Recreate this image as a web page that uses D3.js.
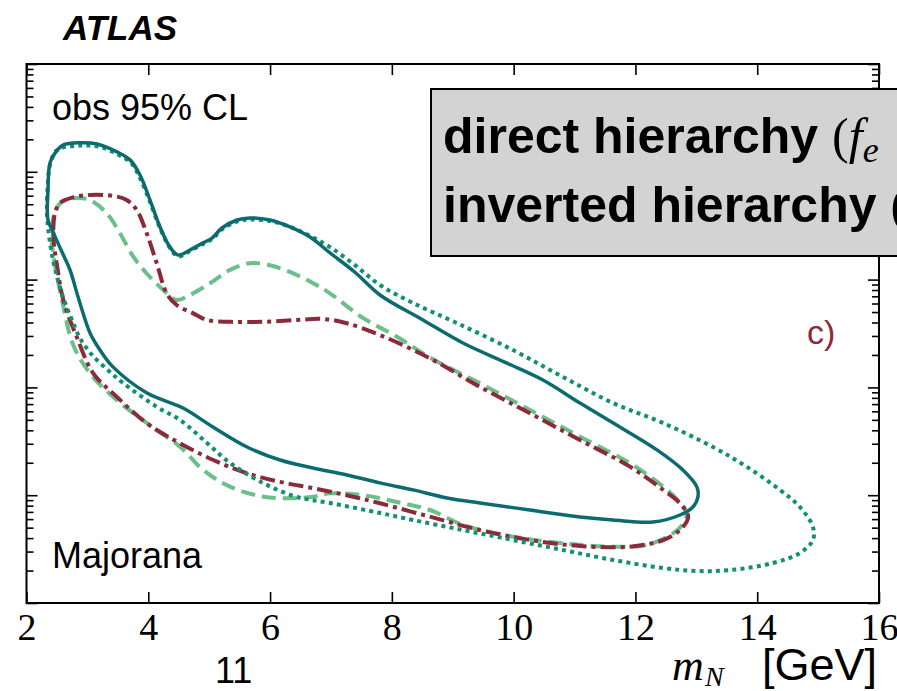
<!DOCTYPE html>
<html>
<head>
<meta charset="utf-8">
<script src="https://cdn.jsdelivr.net/npm/d3@7"></script>
<style>
  html, body { margin: 0; padding: 0; background: #fff; }
  svg { display: block; }
</style>
</head>
<body>
<script>
// ---------- data (mass in GeV, |U|^2) ----------
const xTickValues = [2, 4, 6, 8, 10, 12, 14, 16];
const yMajorTicks = [1e-7, 1e-6, 1e-5, 1e-4, 1e-3, 1e-2];

// solid contour (direct hierarchy, observed)
const solidMass = [2.353, 2.353, 2.386, 2.468, 2.599, 2.878, 3.158, 3.486, 3.700, 3.864, 4.028, 4.192, 4.356, 4.488, 4.685, 4.898, 5.046, 5.210, 5.456, 5.670, 5.998, 6.327, 6.655, 6.984, 7.394, 7.805, 8.511, 9.167, 9.890, 10.481, 11.089, 11.745, 12.353, 12.780, 13.010, 13.026, 12.944, 12.731, 12.287, 11.631, 11.089, 10.268, 9.447, 8.905, 8.346, 7.805, 7.263, 6.704, 6.163, 5.621, 5.062, 4.570, 3.979, 3.420, 3.207, 3.043, 2.862, 2.714, 2.583, 2.435];
const solidU2 = [3.57e-4, 6.78e-4, 1.21e-3, 1.49e-3, 1.77e-3, 1.86e-3, 1.81e-3, 1.53e-3, 1.29e-3, 9.33e-4, 5.47e-4, 3.08e-4, 2.0e-4, 1.69e-4, 1.88e-4, 2.19e-4, 2.43e-4, 3.01e-4, 3.57e-4, 3.73e-4, 3.57e-4, 3.08e-4, 2.48e-4, 1.77e-4, 1.17e-4, 7.2e-5, 4.22e-5, 2.58e-5, 1.68e-5, 1.17e-5, 7.16e-6, 4.29e-6, 2.63e-6, 1.71e-6, 1.19e-6, 9.62e-7, 7.77e-7, 6.55e-7, 5.64e-7, 5.89e-7, 6.28e-7, 7.29e-7, 8.47e-7, 9.42e-7, 1.12e-6, 1.30e-6, 1.54e-6, 1.79e-6, 2.12e-6, 2.80e-6, 4.29e-6, 6.44e-6, 8.87e-6, 1.55e-5, 2.22e-5, 3.2e-5, 6.47e-5, 1.23e-4, 1.80e-4, 2.77e-4];

// dotted contour
const dottedMass = [2.337, 2.337, 2.353, 2.386, 2.501, 2.878, 3.207, 3.486, 3.716, 3.864, 4.028, 4.192, 4.356, 4.488, 4.685, 4.898, 5.046, 5.210, 5.456, 5.670, 5.998, 6.327, 6.655, 6.984, 7.394, 7.805, 8.346, 9.069, 9.989, 10.810, 11.631, 12.452, 13.273, 13.831, 14.373, 14.701, 14.915, 14.915, 14.701, 14.258, 13.552, 13.010, 12.452, 11.631, 10.810, 9.989, 9.168, 8.346, 7.805, 6.984, 6.442, 5.883, 5.342, 4.964, 4.521, 4.143, 3.585, 3.371, 3.076, 2.878, 2.747, 2.616, 2.517, 2.435, 2.369];
const dottedU2 = [3.97e-4, 5.47e-4, 8.04e-4, 1.16e-3, 1.59e-3, 1.75e-3, 1.70e-3, 1.46e-3, 1.21e-3, 8.75e-4, 5.25e-4, 3.01e-4, 1.96e-4, 1.64e-4, 1.84e-4, 2.14e-4, 2.38e-4, 2.92e-4, 3.46e-4, 3.61e-4, 3.50e-4, 3.08e-4, 2.54e-4, 2.0e-4, 1.36e-4, 8.91e-5, 6.07e-5, 3.95e-5, 2.22e-5, 1.25e-5, 7.16e-6, 4.68e-6, 2.80e-6, 1.83e-6, 1.12e-6, 7.77e-7, 5.07e-7, 3.84e-7, 2.91e-7, 2.35e-7, 2.02e-7, 1.98e-7, 2.11e-7, 2.51e-7, 3.10e-7, 3.84e-7, 4.75e-7, 5.89e-7, 6.84e-7, 8.47e-7, 9.62e-7, 1.30e-6, 1.99e-6, 3.05e-6, 4.99e-6, 6.58e-6, 1.10e-5, 1.39e-5, 2.0e-5, 2.87e-5, 4.22e-5, 6.47e-5, 9.91e-5, 1.52e-4, 2.59e-4];

// dashed contour
const dashedMass = [2.419, 2.414, 2.468, 2.578, 2.768, 3.043, 3.317, 3.535, 3.754, 3.974, 4.246, 4.466, 4.685, 5.013, 5.342, 5.670, 5.998, 6.381, 6.709, 6.984, 7.525, 8.084, 8.626, 9.447, 10.268, 11.089, 11.910, 12.456, 12.736, 12.841, 12.780, 12.621, 12.184, 11.636, 10.814, 9.993, 9.172, 8.626, 8.084, 7.525, 6.984, 6.709, 6.327, 5.888, 5.342, 4.903, 4.521, 4.138, 3.481, 3.043, 2.768, 2.583, 2.468];
const dashedU2 = [2.09e-4, 2.88e-4, 4.24e-4, 5.25e-4, 5.68e-4, 5.47e-4, 4.12e-4, 2.69e-4, 1.63e-4, 1.14e-4, 8.02e-5, 6.47e-5, 7.2e-5, 9.25e-5, 1.23e-4, 1.42e-4, 1.36e-4, 1.14e-4, 9.25e-5, 7.46e-5, 4.41e-5, 2.95e-5, 1.89e-5, 1.09e-5, 6.17e-6, 3.49e-6, 1.98e-6, 1.20e-6, 8.47e-7, 6.79e-7, 5.41e-7, 4.44e-7, 3.45e-7, 3.33e-7, 3.58e-7, 4.12e-7, 5.30e-7, 7.29e-7, 8.65e-7, 1.0e-6, 1.04e-6, 9.68e-7, 9.36e-7, 9.68e-7, 1.20e-6, 1.71e-6, 2.82e-6, 4.03e-6, 7.64e-6, 1.35e-5, 2.47e-5, 6.47e-5, 1.36e-4];

// dash-dot contour
const dashDotMass = [2.452, 2.440, 2.468, 2.550, 2.768, 3.043, 3.425, 3.645, 3.810, 3.974, 4.138, 4.302, 4.466, 4.739, 4.959, 5.342, 5.888, 6.437, 6.874, 7.258, 7.805, 8.626, 9.447, 10.268, 11.089, 11.910, 12.456, 12.731, 12.867, 12.731, 12.456, 11.910, 11.089, 10.268, 9.447, 8.626, 7.805, 7.258, 6.709, 6.163, 5.616, 5.067, 4.521, 3.974, 3.481, 3.097, 2.824, 2.604, 2.501];
const dashDotU2 = [2.09e-4, 2.88e-4, 4.15e-4, 5.14e-4, 5.80e-4, 6.09e-4, 5.97e-4, 5.47e-4, 4.43e-4, 2.69e-4, 1.42e-4, 7.46e-5, 5.81e-5, 4.86e-5, 4.22e-5, 4.06e-5, 4.06e-5, 4.22e-5, 4.31e-5, 3.94e-5, 3.06e-5, 1.86e-5, 1.01e-5, 5.75e-6, 3.25e-6, 1.84e-6, 1.12e-6, 8.41e-7, 6.32e-7, 4.75e-7, 3.84e-7, 3.33e-7, 3.38e-7, 3.84e-7, 4.75e-7, 6.32e-7, 8.41e-7, 1.0e-6, 1.16e-6, 1.33e-6, 1.60e-6, 2.12e-6, 3.03e-6, 4.65e-6, 8.2e-6, 1.35e-5, 2.95e-5, 6.47e-5, 1.36e-4];

// ---------- layout ----------
const W = 897, H = 691;
const L = 26.5, R = 879, T = 64, B = 603;

const svg = d3.select("body").append("svg").attr("width", W).attr("height", H);

const x = d3.scaleLinear().domain([2, 16]).range([L, R]);
const y = d3.scaleLog().domain([1e-7, 1e-2]).range([B, T]);

const minorTicks = [];
yMajorTicks.slice(0, -1).forEach(p => { for (let k = 2; k <= 9; k++) minorTicks.push(p * k); });

svg.append("defs").append("clipPath").attr("id", "plotclip")
  .append("rect").attr("x", L).attr("y", T).attr("width", R - L).attr("height", B - T);

// ---------- axes ----------
const axisStyle = g => {
  g.select(".domain").remove();
  g.selectAll(".tick line").attr("stroke", "#000").attr("stroke-width", 1.6);
};

svg.append("g").attr("transform", `translate(0,${B})`)
  .call(d3.axisBottom(x).tickValues(xTickValues).tickSize(-11).tickPadding(10).tickFormat(d3.format("d")))
  .call(axisStyle)
  .call(g => g.selectAll(".tick text")
    .attr("font-family", "'Liberation Serif', 'Times New Roman', serif")
    .attr("font-size", 38).attr("fill", "#000").attr("dy", "0.72em"));

svg.append("g").attr("transform", `translate(0,${T})`)
  .call(d3.axisTop(x).tickValues(xTickValues).tickSize(-11).tickFormat(""))
  .call(axisStyle);

svg.append("g").attr("transform", `translate(${L},0)`)
  .call(d3.axisLeft(y).tickValues(yMajorTicks).tickSize(-11).tickFormat(""))
  .call(axisStyle);
svg.append("g").attr("transform", `translate(${L},0)`)
  .call(d3.axisLeft(y).tickValues(minorTicks).tickSize(-7).tickFormat(""))
  .call(axisStyle);
svg.append("g").attr("transform", `translate(${R},0)`)
  .call(d3.axisRight(y).tickValues(yMajorTicks).tickSize(-11).tickFormat(""))
  .call(axisStyle);
svg.append("g").attr("transform", `translate(${R},0)`)
  .call(d3.axisRight(y).tickValues(minorTicks).tickSize(-7).tickFormat(""))
  .call(axisStyle);

// frame
svg.append("rect").attr("x", L).attr("y", T).attr("width", R - L).attr("height", B - T)
  .attr("fill", "none").attr("stroke", "#000").attr("stroke-width", 2);

// ---------- contours ----------
const line = d3.line().x(d => x(d[0])).y(d => y(d[1])).curve(d3.curveCatmullRomClosed.alpha(0.5));
const plot = svg.append("g").attr("clip-path", "url(#plotclip)");

const series = [
  { mass: dashedMass, u2: dashedU2, color: "#6bbf89", width: 4, dash: "14,7" },
  { mass: dashDotMass, u2: dashDotU2, color: "#8b2a3b", width: 4, dash: "15,5,4,5" },
  { mass: dottedMass, u2: dottedU2, color: "#13906f", width: 4, dash: "4,4.2" },
  { mass: solidMass, u2: solidU2, color: "#0b6b70", width: 3.5, dash: null }
];
series.forEach(s => {
  const pts = s.mass.map((m, i) => [m, s.u2[i]]);
  plot.append("path").attr("d", line(pts))
    .attr("fill", "none").attr("stroke", s.color).attr("stroke-width", s.width)
    .attr("stroke-dasharray", s.dash).attr("stroke-linejoin", "round");
});

// ---------- texts ----------
const sans = "'Liberation Sans', Arial, Helvetica, sans-serif";
const serif = "'Liberation Serif', 'Times New Roman', serif";

svg.append("text").attr("x", 63).attr("y", 40).attr("font-family", sans)
  .attr("font-size", 35).attr("font-weight", "bold").attr("font-style", "italic").text("ATLAS");

svg.append("text").attr("x", 52).attr("y", 120).attr("font-family", sans)
  .attr("font-size", 36).text("obs 95% CL");

svg.append("text").attr("x", 52).attr("y", 568).attr("font-family", sans)
  .attr("font-size", 36).text("Majorana");

svg.append("text").attr("x", 807).attr("y", 344).attr("font-family", sans)
  .attr("font-size", 34).attr("fill", "#8b2a3b").text("c)");

// legend box
svg.append("rect").attr("x", 431).attr("y", 89).attr("width", 520).attr("height", 167)
  .attr("fill", "#d3d3d3").attr("stroke", "#000").attr("stroke-width", 2);

const t1 = svg.append("text").attr("x", 443).attr("y", 153).attr("font-family", sans)
  .attr("font-size", 50).attr("font-weight", "bold");
t1.append("tspan").text("direct hierarchy ");
t1.append("tspan").attr("font-family", serif).attr("font-weight", "normal").text("(");
t1.append("tspan").attr("font-family", serif).attr("font-weight", "normal").attr("font-style", "italic").text("f");
t1.append("tspan").attr("font-family", serif).attr("font-weight", "normal").attr("font-style", "italic")
  .attr("font-size", 36).attr("dy", 9).text("e");

const t2 = svg.append("text").attr("x", 443).attr("y", 222).attr("font-family", sans)
  .attr("font-size", 50).attr("font-weight", "bold");
t2.append("tspan").text("inverted hierarchy ");
t2.append("tspan").attr("font-family", serif).attr("font-weight", "normal").text("(");

// bottom texts
svg.append("text").attr("x", 215).attr("y", 683).attr("font-family", sans)
  .attr("font-size", 36).text("11");

svg.append("text").attr("x", 672).attr("y", 680).attr("font-family", serif)
  .attr("font-style", "italic").attr("font-size", 44).text("m");
svg.append("text").attr("x", 705).attr("y", 686).attr("font-family", serif)
  .attr("font-style", "italic").attr("font-size", 28).text("N");
svg.append("text").attr("x", 877).attr("y", 680).attr("text-anchor", "end").attr("font-family", sans)
  .attr("font-size", 45).text("[GeV]");
</script>
</body>
</html>
